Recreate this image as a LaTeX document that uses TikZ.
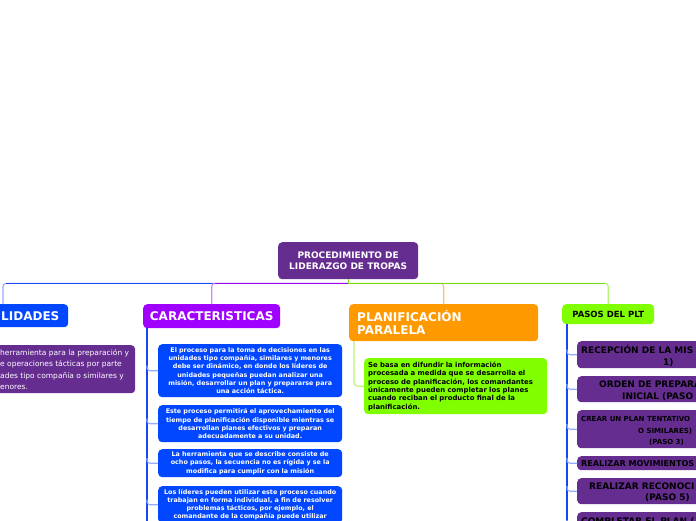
\documentclass[tikz,border=0pt]{standalone}
\usepackage{fontspec}
\setmainfont{DejaVu Sans}
\usetikzlibrary{calc}
\definecolor{mmpurple}{HTML}{662D91}
\definecolor{mmblue}{HTML}{0047FF}
\definecolor{mmviolet}{HTML}{A000FF}
\definecolor{mmorange}{HTML}{FF9900}
\definecolor{mmlime}{HTML}{80FF00}
\definecolor{lnblue}{HTML}{1646F0}
\definecolor{lnbluelight}{HTML}{93AAFF}
\definecolor{lnviolet}{HTML}{A000F0}
\definecolor{lnvioletlight}{HTML}{D08AFF}
\definecolor{lngreen}{HTML}{7ED81A}
\definecolor{lngreenlight}{HTML}{B5F275}
\definecolor{lnorangelight}{HTML}{FFC070}
\begin{document}
\begin{tikzpicture}[x=1pt,y=-1pt,
  box/.style={rounded corners=4pt, inner sep=0pt, anchor=north west, draw=none},
  lbl/.style={inner sep=0pt, anchor=base west},
  bigtxt/.style={font=\bfseries\fontsize{12}{13.3}\selectfont},
  bluetxt/.style={text=white, align=center, text width=184pt, font=\bfseries\fontsize{6.4}{8.2}\selectfont},
  steptxt/.style={lbl, text=black, font=\bfseries\fontsize{9}{11}\selectfont},
  trunk/.style={lnblue, line width=1.1pt},
  branch/.style={lnbluelight, line width=1.1pt, rounded corners=3pt},
  link/.style={line width=1.1pt},
]
\useasboundingbox (0,0) rectangle (696,520);
\fill[white] (0,0) rectangle (696,520);
\clip (0,0) rectangle (696,520);

% root
\node[box, fill=mmpurple, minimum width=140pt, minimum height=37pt, text=white, align=center,
  font=\bfseries\fontsize{9}{11.5}\selectfont] (root) at (278,242) {PROCEDIMIENTO DE\\LIDERAZGO DE TROPAS};

% main branches
\node[box, fill=mmblue, minimum width=78pt, minimum height=23pt] (lid) at (-10,304) {};
\node[lbl, bigtxt, text=white] (lidtxt) at (1,320.5) {LIDADES};

\node[box, fill=mmviolet, minimum width=137pt, minimum height=24pt, text=white, bigtxt] (car) at (143,304) {CARACTERISTICAS};

\node[box, fill=mmorange, minimum width=189pt, minimum height=37pt, text=white, align=left,
  text width=173pt, inner xsep=8pt, bigtxt] (par) at (349,304) {PLANIFICACIÓN\\PARALELA};

\node[box, fill=mmlime, minimum width=92pt, minimum height=20pt, text=black,
  font=\bfseries\fontsize{8.5}{10}\selectfont] (pasos) at (562,304) {PASOS DEL PLT};

% connectors from root
\coordinate (hub) at ($(root.south)+(0,4)$);
\coordinate (lidtop) at (3,304);
\draw[link, lnbluelight, rounded corners=3pt] (hub) -| (lidtop);
\draw[link, lnblue] (hub) -- ($(hub -| lidtop)+(3,0)$);
\draw[link, lnvioletlight, rounded corners=3pt] (hub) -| (car.north);
\draw[link, lnviolet] (hub) -- ($(hub -| car.north)+(3,0)$);
\draw[link, lnorangelight, rounded corners=3pt] (hub) -| (par.north);
\draw[link, lngreenlight, rounded corners=3pt] (hub) -| (pasos.north);
\draw[link, lngreen] (root.south) -- (hub) -- ($(hub -| pasos.north)+(-3,0)$);

% left purple box
\node[box, fill=mmpurple, minimum width=145pt, minimum height=48pt] (fin) at (-10,345) {};
\node[inner sep=0pt, anchor=north west, align=left, text=white, font=\fontsize{7.5}{11.5}\selectfont] (fintxt) at (0,349)
  {herramienta para la preparación y\\e operaciones  tácticas por parte\\ades tipo compañía o similares y\\enores.};

% caracteristicas children
\node[box, fill=mmblue, minimum width=184pt, minimum height=53pt, bluetxt] (c1) at (158,344)
  {El proceso para la toma de decisiones en las\\unidades tipo compañía, similares y menores\\debe ser dinámico, en donde los líderes de\\unidades pequeñas puedan analizar una\\misión, desarrollar un plan y prepararse para\\una acción táctica.};
\node[box, fill=mmblue, minimum width=184pt, minimum height=37pt, bluetxt] (c2) at (158,405)
  {Este proceso permitirá el aprovechamiento del\\tiempo de planificación disponible mientras se\\desarrollan planes efectivos y preparan\\adecuadamente a su unidad.};
\node[box, fill=mmblue, minimum width=184pt, minimum height=28pt, bluetxt] (c3) at (158,449)
  {La herramienta que se describe consiste de\\ocho pasos, la secuencia no es rígida y se la\\modifica para cumplir con la misión};
\node[box, fill=mmblue, minimum width=184pt, minimum height=37pt, bluetxt] (c4) at (158,486)
  {Los líderes pueden utilizar este proceso cuando\\trabajan en forma individual, a fin de resolver\\problemas tácticos, por ejemplo, el\\comandante de la compañía puede utilizar};

\coordinate (ct0) at (147,328);
\coordinate (ct1) at (147,522);
\draw[trunk] (ct0) -- (ct1);
\foreach \c in {c1,c2,c3,c4}{
  \draw[branch] ($(\c.west -| ct0)+(0,-5)$) |- (\c.west);
}

% planificacion paralela child
\node[box, fill=mmlime, minimum width=183pt, minimum height=56pt, text width=175pt, inner xsep=4pt,
  align=left, text=black, font=\bfseries\fontsize{6.9}{8.4}\selectfont] (pchild) at (364,358)
  {Se basa en difundir la información\\procesada a medida que se desarrolla el\\proceso de planificación, los comandantes\\únicamente pueden completar los planes\\cuando reciban el producto final de la\\planificación.};
\coordinate (pg) at (354,341);
\draw[link, lngreenlight, rounded corners=4pt] (pg) |- (pchild.west);

% pasos children
\node[box, fill=mmpurple, minimum width=140pt, minimum height=27pt] (s1) at (577,341) {};
\node[box, fill=mmpurple, minimum width=140pt, minimum height=26pt] (s2) at (577,376) {};
\node[box, fill=mmpurple, minimum width=140pt, minimum height=38pt] (s3) at (577,410) {};
\node[box, fill=mmpurple, minimum width=140pt, minimum height=14pt] (s4) at (577,456) {};
\node[box, fill=mmpurple, minimum width=140pt, minimum height=26pt] (s5) at (577,478) {};
\node[box, fill=mmpurple, minimum width=140pt, minimum height=26pt] (s6) at (577,512) {};

\node[steptxt] (s1a) at (581,353.5) {RECEPCIÓN DE LA MIS};
\node[steptxt] (s1b) at (663,365.5) {1)};
\node[steptxt] (s2a) at (599,387.5) {ORDEN DE PREPARA};
\node[steptxt] (s2b) at (622,399.5) {INICIAL (PASO};
\node[steptxt, font=\bfseries\fontsize{7}{8}\selectfont] (s3a) at (581,421.5) {CREAR UN PLAN TENTATIVO};
\node[steptxt, font=\bfseries\fontsize{7}{8}\selectfont] (s3b) at (638,433) {O SIMILARES)};
\node[steptxt, font=\bfseries\fontsize{7}{8}\selectfont] (s3c) at (649,444.5) {(PASO 3)};
\node[steptxt, font=\bfseries\fontsize{8.1}{9}\selectfont] (s4a) at (581,466) {REALIZAR MOVIMIENTOS};
\node[steptxt] (s5a) at (589,489.5) {REALIZAR RECONOCI};
\node[steptxt] (s5b) at (645,500.5) {(PASO 5)};
\node[steptxt] (s6a) at (581,524) {COMPLETAR EL PLAN (};

\coordinate (pt0) at (567,324);
\coordinate (pt1) at (567,522);
\draw[trunk] (pt0) -- (pt1);
\foreach \s in {s1,s2,s3,s4,s5,s6}{
  \draw[branch] ($(\s.west -| pt0)+(0,-5)$) |- (\s.west);
}
\end{tikzpicture}
\end{document}
